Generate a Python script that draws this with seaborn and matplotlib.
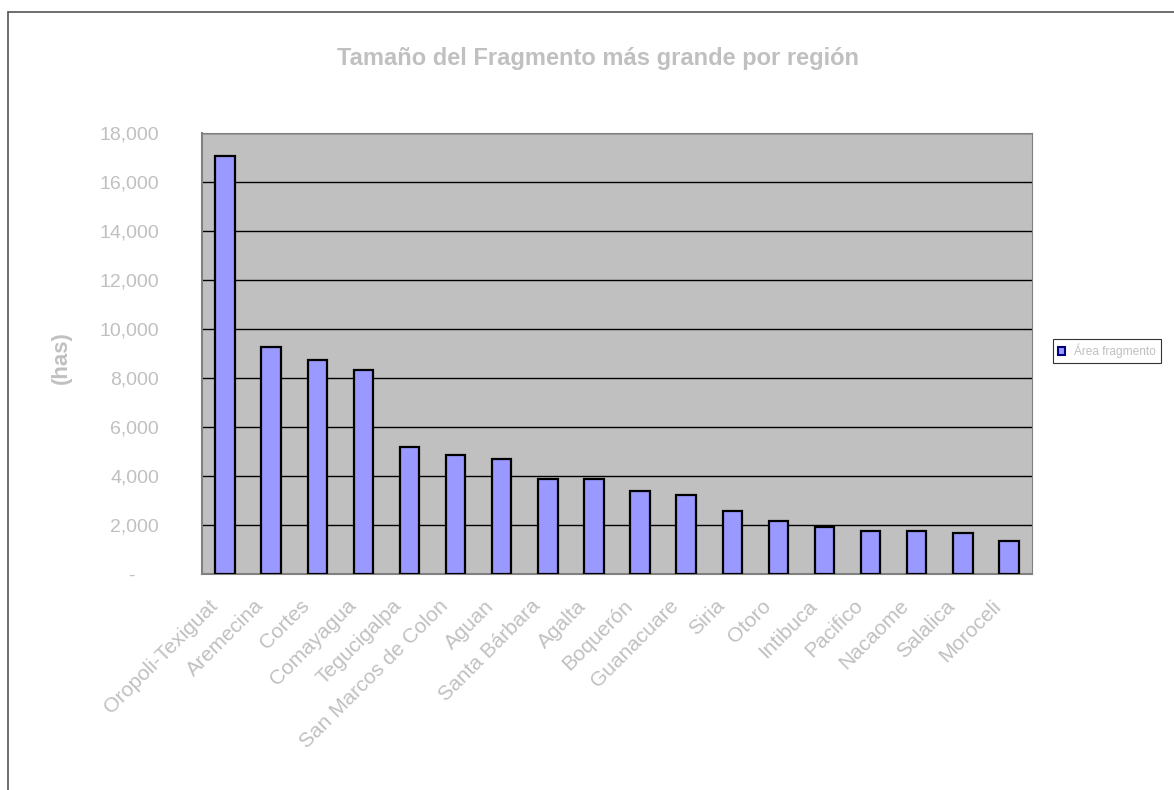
import matplotlib
matplotlib.use("Agg")
import matplotlib.pyplot as plt
import matplotlib.transforms as mtransforms
from matplotlib.lines import Line2D
from matplotlib.patches import Patch
from matplotlib.ticker import FixedLocator, FuncFormatter
import seaborn as sns
import pandas as pd

regions = ["Oropoli-Texiguat", "Aremecina", "Cortes", "Comayagua", "Tegucigalpa",
           "San Marcos de Colon", "Aguan", "Santa Bárbara", "Agalta", "Boquerón",
           "Guanacuare", "Siria", "Otoro", "Intibuca", "Pacifico", "Nacaome",
           "Salalica", "Moroceli"]
area = [17060, 9280, 8720, 8310, 5200, 4870, 4710, 3890, 3880, 3400,
        3240, 2580, 2160, 1930, 1760, 1760, 1690, 1360]
y_ticks = [0, 2000, 4000, 6000, 8000, 10000, 12000, 14000, 16000, 18000]

title = "Tamaño del Fragmento más grande por región"
y_label = "(has)"
series_name = "Área fragmento"

df = pd.DataFrame({"region": regions, "area": area})

sns.set_style("white")
plt.rcParams["font.family"] = ["Liberation Sans", "DejaVu Sans"]

W, H = 1174, 790
fig = plt.figure(figsize=(W / 100, H / 100), dpi=100)
ax = fig.add_axes([202 / W, 1 - 574 / H, (1032 - 202) / W, (574 - 133) / H])
ax.set_facecolor("#C0C0C0")

sns.barplot(data=df, x="region", y="area", color="#9999FF", saturation=1,
            edgecolor="black", linewidth=1.6, width=0.42, ax=ax, zorder=3)

ax.set_ylim(0, 18000)
ax.set_xlim(-0.5, len(regions) - 0.5)
ax.yaxis.set_major_locator(FixedLocator(y_ticks))
ax.yaxis.set_major_formatter(FuncFormatter(lambda v, p: "-" if v == 0 else f"{int(v):,}"))
ax.grid(axis="y", color="black", linewidth=1.0, zorder=1)
ax.set_axisbelow(True)

grey_txt = "#C0C0C0"
ax.tick_params(axis="y", which="major", direction="out", length=5, width=1,
               color="#808080", labelsize=14, labelcolor=grey_txt, pad=26)
fig.canvas.draw()
# the dash for zero sits further left, as in an accounting number format
dash_shift = mtransforms.ScaledTranslation(-24 / 100, 0, fig.dpi_scale_trans)
for tick in ax.yaxis.get_major_ticks():
    if tick.label1.get_text() == "-":
        tick.label1.set_transform(tick.label1.get_transform() + dash_shift)

ax.set_xticks(range(len(regions)))
ax.set_xticklabels(regions, rotation=45, ha="right", va="top",
                   rotation_mode="default", fontsize=15, color=grey_txt)
ax.tick_params(axis="x", which="major", length=0, pad=16)
shift = mtransforms.ScaledTranslation(-4 / 100, 0, fig.dpi_scale_trans)
for lbl in ax.get_xticklabels():
    lbl.set_transform(lbl.get_transform() + shift)
ax.set_xticks([i - 0.5 for i in range(len(regions) + 1)], minor=True)
ax.tick_params(axis="x", which="minor", direction="out", length=5, width=1,
               color="#808080")

for side in ("left", "bottom"):
    ax.spines[side].set_color("#808080")
    ax.spines[side].set_linewidth(1.5)
for side in ("top", "right"):
    ax.spines[side].set_color("#808080")
    ax.spines[side].set_linewidth(0.8)

ax.set_xlabel("")
ax.set_ylabel("")
fig.text(61 / W, 1 - 358 / H, y_label, rotation=90, ha="center", va="center",
         fontsize=16, fontweight="bold", color=grey_txt)

fig.text(598 / W, 1 - 59 / H, title, ha="center", va="center",
         fontsize=17, fontweight="bold", color=grey_txt)

handle = Patch(facecolor="#9999FF", edgecolor="#000080", linewidth=1.5)
leg = fig.legend([handle], [series_name], loc="center left",
                 bbox_to_anchor=(1053 / W, 1 - 351 / H), frameon=True,
                 fontsize=8.6, handlelength=0.6, handleheight=0.6,
                 handletextpad=0.8, borderpad=0.4, borderaxespad=0,
                 fancybox=False, labelcolor=grey_txt)
leg.get_frame().set_edgecolor("black")
leg.get_frame().set_linewidth(0.8)

# outer frame of the chart area
fig.add_artist(Line2D([8 / W, 1], [1 - 12 / H, 1 - 12 / H], color="#555555",
                      linewidth=1.2, transform=fig.transFigure))
fig.add_artist(Line2D([8 / W, 8 / W], [0, 1 - 12 / H], color="#555555",
                      linewidth=1.2, transform=fig.transFigure))

fig.savefig("out.png", dpi=100)
